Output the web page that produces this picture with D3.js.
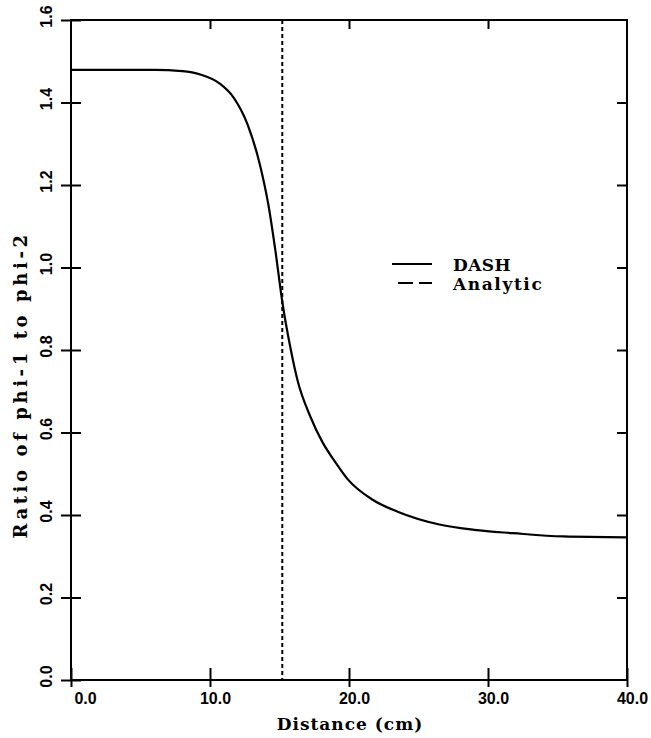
<!DOCTYPE html>
<html>
<head>
<meta charset="utf-8">
<script src="https://cdn.jsdelivr.net/npm/d3@7"></script>
<style>
  body { margin: 0; background: #fff; }
  .tick text { font-family: "Liberation Sans", Arial, sans-serif; font-weight: bold; font-size: 16px; fill: #000; }
  .label { font-family: "DejaVu Serif", serif; font-weight: bold; fill: #000; }
</style>
</head>
<body>
<div id="chart"></div>
<script>
// DASH solution, ratio of phi-1 to phi-2 vs distance
const distance = [0, 6, 8, 9.3, 10.7, 11.7, 12.7, 13.6, 14.2, 14.7, 15.2, 15.8, 16.3, 17.2, 18.1, 19.0, 19.9, 21.7, 23.5, 26.5, 29.0, 31.8, 35.4, 40];
const ratio = [1.479, 1.479, 1.476, 1.468, 1.446, 1.412, 1.347, 1.248, 1.152, 1.042, 0.917, 0.803, 0.726, 0.640, 0.576, 0.529, 0.487, 0.437, 0.408, 0.377, 0.364, 0.356, 0.348, 0.346];
const analyticX = 15.2;

const xTicks = [0, 10, 20, 30, 40];
const yTicks = [0, 0.2, 0.4, 0.6, 0.8, 1.0, 1.2, 1.4, 1.6];
const legendNames = ["DASH", "Analytic"];

const width = 651, height = 738;
const plotL = 71, plotR = 627, plotT = 20, plotB = 680;

const svg = d3.select("#chart").append("svg")
    .attr("width", width)
    .attr("height", height);

const x = d3.scaleLinear().domain([0, 40]).range([plotL, plotR]);
const y = d3.scaleLinear().domain([0, 1.6]).range([plotB, plotT]);

// frame
svg.append("rect")
    .attr("x", plotL).attr("y", plotT)
    .attr("width", plotR - plotL).attr("height", plotB - plotT)
    .attr("fill", "none").attr("stroke", "#000").attr("stroke-width", 2);

// bottom axis, ticks crossing the line
const gx = svg.append("g")
    .attr("transform", `translate(0,${plotB})`)
    .call(d3.axisBottom(x).tickValues(xTicks).tickFormat(d3.format(".1f")).tickSize(7).tickPadding(0));
gx.select(".domain").remove();
gx.selectAll(".tick line").attr("y1", -12).attr("y2", 7).attr("stroke-width", 2);
gx.selectAll(".tick text")
    .attr("y", 24).attr("dy", 0)
    .attr("dx", d => d === 0 ? 14 : 5);

// top axis, inward ticks
const gt = svg.append("g")
    .attr("transform", `translate(0,${plotT})`)
    .call(d3.axisTop(x).tickValues(xTicks.slice(1, -1)).tickFormat(""));
gt.select(".domain").remove();
gt.selectAll(".tick line").attr("y1", 0).attr("y2", 9).attr("stroke-width", 2);

// left axis, ticks crossing, rotated labels
const gy = svg.append("g")
    .attr("transform", `translate(${plotL},0)`)
    .call(d3.axisLeft(y).tickValues(yTicks).tickFormat(d3.format(".1f")));
gy.select(".domain").remove();
gy.selectAll(".tick line").attr("x1", 10).attr("x2", -10).attr("stroke-width", 2);
gy.selectAll(".tick text")
    .attr("x", 0).attr("dy", 0)
    .attr("text-anchor", "middle")
    .attr("transform", "translate(-19,-4) rotate(-90)");

// right axis, inward ticks
const gr = svg.append("g")
    .attr("transform", `translate(${plotR},0)`)
    .call(d3.axisRight(y).tickValues(yTicks.slice(1, -1)).tickFormat(""));
gr.select(".domain").remove();
gr.selectAll(".tick line").attr("x1", 0).attr("x2", -10).attr("stroke-width", 2);

// analytic front position
svg.append("line")
    .attr("x1", x(analyticX)).attr("x2", x(analyticX))
    .attr("y1", y(1.6)).attr("y2", y(0))
    .attr("stroke", "#000").attr("stroke-width", 2)
    .attr("stroke-dasharray", "4,3");

// DASH curve
const line = d3.line()
    .x((d, i) => x(distance[i]))
    .y(d => y(d))
    .curve(d3.curveMonotoneX);

svg.append("path")
    .datum(ratio)
    .attr("d", line)
    .attr("fill", "none")
    .attr("stroke", "#000")
    .attr("stroke-width", 2.2);

// legend
const legend = svg.append("g").attr("transform", "translate(392,264)");
legend.append("line")
    .attr("x1", 0).attr("x2", 40).attr("y1", 0).attr("y2", 0)
    .attr("stroke", "#000").attr("stroke-width", 2);
legend.append("line")
    .attr("x1", 6).attr("x2", 40).attr("y1", 19).attr("y2", 19)
    .attr("stroke", "#000").attr("stroke-width", 2)
    .attr("stroke-dasharray", "15,6");
legend.selectAll("text.label")
    .data(legendNames)
    .enter().append("text")
    .attr("class", "label")
    .attr("x", 61)
    .attr("y", (d, i) => 7 + i * 19)
    .attr("font-size", 17)
    .attr("letter-spacing", (d, i) => i ? 1.6 : 0.4)
    .text(d => d);

// axis titles
svg.append("text")
    .attr("class", "label")
    .attr("x", 350).attr("y", 730)
    .attr("text-anchor", "middle")
    .attr("font-size", 17)
    .attr("letter-spacing", 1)
    .text("Distance (cm)");

svg.append("text")
    .attr("class", "label")
    .attr("transform", "translate(27,385) rotate(-90)")
    .attr("text-anchor", "middle")
    .attr("font-size", 18)
    .attr("letter-spacing", 3.6)
    .text("Ratio of phi-1 to phi-2");
</script>
</body>
</html>
